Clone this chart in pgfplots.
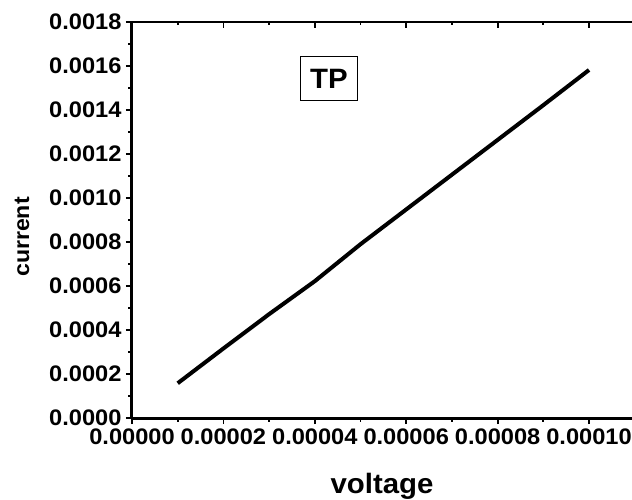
\documentclass[border=0pt]{standalone}
\usepackage{fontspec}
\setmainfont{Liberation Sans}[FakeStretch=1.05]
\usepackage{pgfplots}
\pgfplotsset{compat=1.18}
\begin{document}
\begin{tikzpicture}
\pgfplotsset{
  common/.style={
    scale only axis, width=500pt, height=396pt,
    xmin=0, xmax=0.0001094, ymin=0, ymax=0.0018,
    xtick={0,0.00002,0.00004,0.00006,0.00008,0.0001},
    ytick={0,0.0002,0.0004,0.0006,0.0008,0.001,0.0012,0.0014,0.0016,0.0018},
    minor tick num=1,
    major tick length=6pt, minor tick length=3.5pt,
    every tick/.style={black, line width=1.8pt},
    scaled ticks=false,
  }
}
\begin{axis}[common, name=ax,
  axis x line*=bottom, axis y line*=left,
  axis line style={line width=3pt},
  tick align=outside,
  xticklabels={0.00000,0.00002,0.00004,0.00006,0.00008,0.00010},
  yticklabels={0.0000,0.0002,0.0004,0.0006,0.0008,0.0010,0.0012,0.0014,0.0016,0.0018},
  tick label style={font=\fontsize{22.5}{25}\selectfont\bfseries},
  xticklabel style={yshift=-1pt},
  yticklabel style={xshift=-1pt},
  xlabel={voltage}, ylabel={current},
  xlabel style={font=\fontsize{28}{30}\selectfont\bfseries, at={(axis description cs:0.5,-0.172)}, anchor=center},
  ylabel style={font=\fontsize{22}{24}\selectfont\bfseries, at={(axis description cs:-0.22,0.457)}, anchor=center},
  clip=false,
]
\addplot[black, line width=4pt] coordinates {
  (0.00001,0.000158) (0.00002,0.000316) (0.00003,0.000472) (0.00004,0.000622)
  (0.00005,0.000790) (0.00006,0.000948) (0.00007,0.001106) (0.00008,0.001264)
  (0.00009,0.001422) (0.00010,0.001582)
};
\node[draw=black, line width=1pt, inner xsep=10pt, inner ysep=12pt,
  text height=20pt, text depth=0pt,
  font=\fontsize{28}{30}\selectfont\bfseries] at (axis cs:0.0000431,0.001543) {TP};
\end{axis}
\begin{axis}[common,
  axis x line*=top, axis y line=none,
  axis line style={line width=1.3pt},
  tick align=inside,
  xticklabels={}, yticklabels={},
]
\addplot[draw=none] coordinates {(0,0)};
\end{axis}
\pgfresetboundingbox
\path[use as bounding box] ([shift={(-132pt,-81pt)}]ax.south west) rectangle ([shift={(500pt,418pt)}]ax.south west);
\end{tikzpicture}
\end{document}
